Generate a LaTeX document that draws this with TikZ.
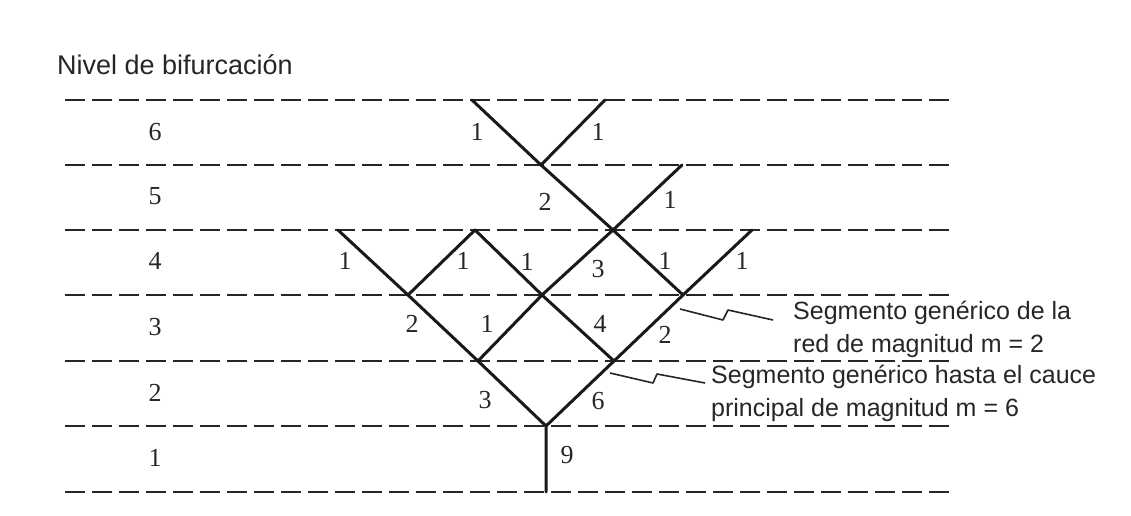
\documentclass[tikz,border=0pt]{standalone}
\usepackage{fontspec}
\setmainfont{Liberation Serif}
\newfontfamily\arialfont{Liberation Sans}
\begin{document}
\begin{tikzpicture}[x=1pt,y=-1pt,
    nivel/.style={line width=2.4pt,black!85,dash pattern=on 20pt off 7pt},
    cauce/.style={line width=3pt,line cap=round,line join=round,black!90},
    orden/.style={font=\fontsize{26}{30}\selectfont,inner sep=0pt,black!85},
    nota/.style={font=\arialfont\fontsize{25}{33}\selectfont,align=left,anchor=west,inner sep=0pt,black!85},
    rayo/.style={line width=1.6pt,line join=round,black!85}]
    \useasboundingbox (0,0) rectangle (1131,516);
    % titulo
    \node[font=\arialfont\fontsize{27}{30}\selectfont,anchor=base west,inner sep=0pt,black!85] (titulo) at (57,75) {Nivel de bifurcación};
    % lineas de nivel
    \foreach \y in {100,165,230,295,361,426,492}
      \draw[nivel] (65,\y) -- (953,\y);
    % numero de nivel
    \foreach \n/\y in {6/132,5/196,4/261,3/327,2/393,1/458}
      \node[orden] (nivel\n) at (155,\y) {\n};
    % fuentes y nudos
    \coordinate (f6a) at (472,100);
    \coordinate (f6b) at (605,100);
    \coordinate (n5) at (541,165);
    \coordinate (f5) at (682,165);
    \coordinate (f4a) at (338,230);
    \coordinate (f4b) at (475,230);
    \coordinate (n4) at (613,230);
    \coordinate (f4c) at (752,230);
    \coordinate (n3a) at (408,295);
    \coordinate (n3b) at (542,295);
    \coordinate (n3c) at (683,295);
    \coordinate (n2a) at (478,361);
    \coordinate (n2b) at (614,361);
    \coordinate (n1) at (546,426);
    \coordinate (salida) at (546,492);
    % red
    \draw[cauce] (f6a) -- (n5);
    \draw[cauce] (f6b) -- (n5);
    \draw[cauce] (n5) -- (n4) -- (n3c);
    \draw[cauce] (f5) -- (n4);
    \draw[cauce] (f4a) -- (n3a);
    \draw[cauce] (f4b) -- (n3a);
    \draw[cauce] (f4b) -- (n3b) -- (n2b);
    \draw[cauce] (n4) -- (n3b) -- (n2a);
    \draw[cauce] (f4c) -- (n3c) -- (n2b);
    \draw[cauce] (n3a) -- (n2a) -- (n1);
    \draw[cauce] (n2b) -- (n1) -- (salida);
    % magnitudes
    \node[orden] (m6a) at (477,132) {1};
    \node[orden] (m6b) at (598,132) {1};
    \node[orden] (m5a) at (545,202) {2};
    \node[orden] (m5b) at (670,200) {1};
    \node[orden] (m4a) at (345,261) {1};
    \node[orden] (m4b) at (463,261) {1};
    \node[orden] (m4c) at (527,262) {1};
    \node[orden] (m4d) at (598,269) {3};
    \node[orden] (m4e) at (665,261) {1};
    \node[orden] (m4f) at (742,261) {1};
    \node[orden] (m3a) at (412,324) {2};
    \node[orden] (m3b) at (487,324) {1};
    \node[orden] (m3c) at (600,324) {4};
    \node[orden] (m3d) at (665,335) {2};
    \node[orden] (m2a) at (485,400) {3};
    \node[orden] (m2b) at (598,401) {6};
    \node[orden] (m1) at (567,455) {9};
    % notas
    \node[nota] (nota1) at (793,329) {Segmento genérico de la\\red de magnitud m = 2};
    \node[nota] (nota2) at (711,393) {Segmento genérico hasta el cauce\\principal de magnitud m = 6};
    \coordinate (r1a) at (680,309);
    \coordinate (r1b) at (773,320);
    \coordinate (r2a) at (610,373);
    \coordinate (r2b) at (705,383);
    \draw[rayo] (r1a) -- (723,320) -- (728,310) -- (r1b);
    \draw[rayo] (r2a) -- (653,383) -- (657,374) -- (r2b);
\end{tikzpicture}
\end{document}
